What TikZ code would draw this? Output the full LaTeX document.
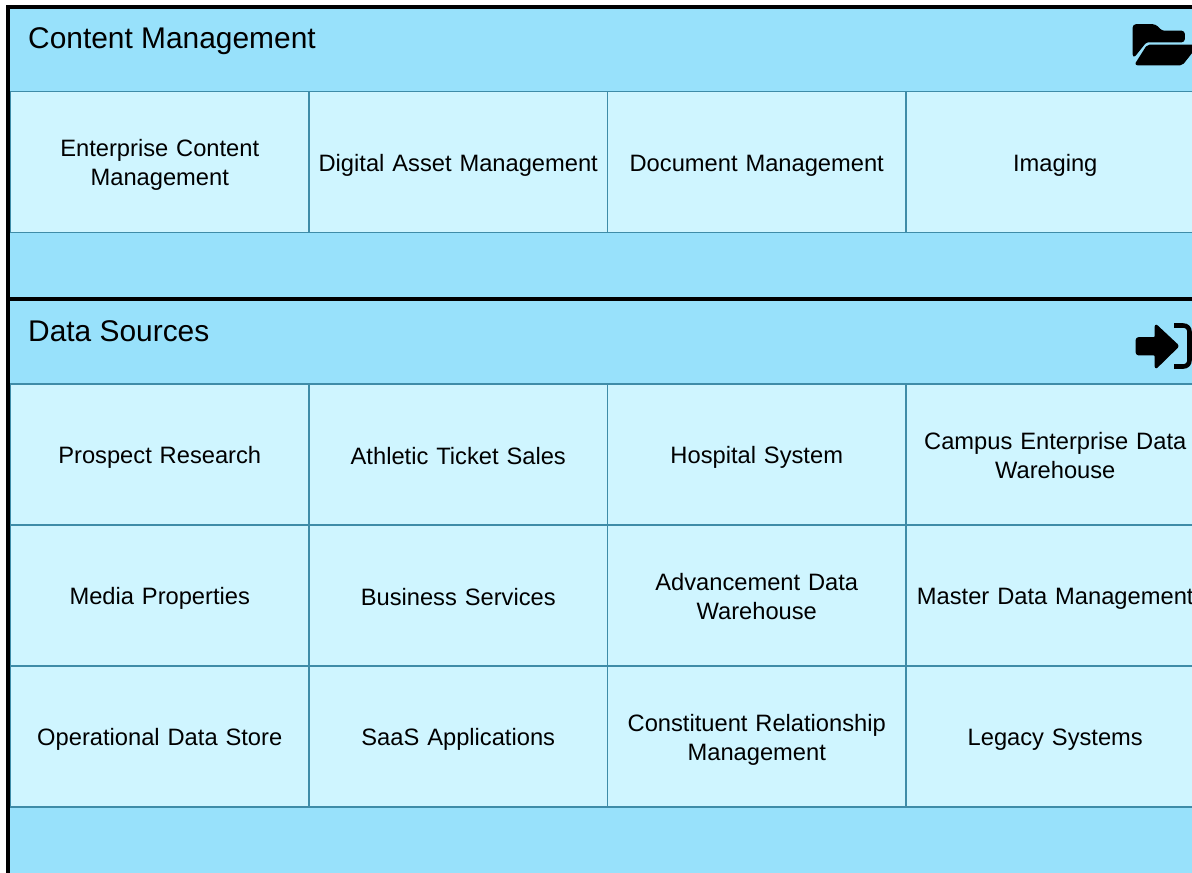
\documentclass[tikz,border=0pt]{standalone}
\usepackage{fontspec}
\setmainfont{Liberation Sans}
\definecolor{sectionblue}{HTML}{98E1FB}
\definecolor{cellblue}{HTML}{CFF5FF}
\definecolor{celledge}{HTML}{3F8CA8}
\tikzset{
  x=1pt,y=-1pt,
  panel/.style={draw=black,line width=4pt,fill=sectionblue,rectangle,anchor=north west,inner sep=0pt,outer sep=0pt},
  cell/.style={draw=celledge,line width=1.3pt,fill=cellblue,rectangle,anchor=north west,inner sep=0pt,outer sep=0pt,
    minimum width=298.5pt,minimum height=141pt,align=center,
    font=\fontsize{23.7pt}{28.6pt}\selectfont,text width=296pt,
    execute at begin node={\rule{0pt}{23.4pt}},execute at end node={\rule[-4pt]{0pt}{4pt}}},
  paneltitle/.style={anchor=base west,inner sep=0pt,font=\fontsize{29.9pt}{34pt}\selectfont},
  glyph/.style={fill=black,draw=black,line width=1.6pt,line join=round},
  glyphline/.style={draw=black,line width=4.6pt,line join=round,fill=none}
}
\begin{document}
\begin{tikzpicture}
\clip (0,0) rectangle (1192,873);
\node[panel,minimum width=1300pt,minimum height=292pt] (cm) at (7.5,7) {};
\node[panel,minimum width=1300pt,minimum height=700pt] (ds) at (7.5,299) {};
\node[paneltitle] (cmt) at (28,48) {Content Management};
\node[paneltitle] (dst) at (28,341) {Data Sources};
% row one
\node[cell] (a1) at (10.5,91.5) {Enterprise Content\\Management};
\node[cell] (a2) at (309,91.5) {Digital Asset Management};
\node[cell] (a3) at (607.5,91.5) {Document Management};
\node[cell] (a4) at (906,91.5) {Imaging};
% data sources
\node[cell] (b1) at (10.5,384) {Prospect Research};
\node[cell] (b2) at (309,384) {Athletic Ticket Sales};
\node[cell] (b3) at (607.5,384) {Hospital System};
\node[cell] (b4) at (906,384) {Campus Enterprise Data\\Warehouse};
\node[cell] (c1) at (10.5,525) {Media Properties};
\node[cell] (c2) at (309,525) {Business Services};
\node[cell] (c3) at (607.5,525) {Advancement Data\\Warehouse};
\node[cell] (c4) at (906,525) {Master Data Management};
\node[cell] (d1) at (10.5,666) {Operational Data Store};
\node[cell] (d2) at (309,666) {SaaS Applications};
\node[cell] (d3) at (607.5,666) {Constituent Relationship\\Management};
\node[cell] (d4) at (906,666) {Legacy Systems};
% folder icon
\path[glyph,rounded corners=2.5pt] (1133.5,25) -- (1133.5,57) -- (1146,41.5) -- (1184,41.5) -- (1184,31.5) -- (1162,31.5) -- (1155,25) -- cycle;
\path[glyph,rounded corners=2pt] (1147.5,45.5) -- (1197,45.5) -- (1182,64.5) -- (1135.5,64.5) -- cycle;
% arrow icon
\path[glyph,rounded corners=2pt] (1136.5,338) -- (1155.5,338) -- (1155.5,324.5) -- (1178.5,346) -- (1155.5,368.5) -- (1155.5,354.5) -- (1136.5,354.5) -- cycle;
\draw[glyphline] (1174,325.5) -- (1183,325.5) .. controls (1187,325.5) and (1189.5,328) .. (1189.5,332) -- (1189.5,360) .. controls (1189.5,364) and (1187,366.5) .. (1183,366.5) -- (1174,366.5);
\end{tikzpicture}
\end{document}
